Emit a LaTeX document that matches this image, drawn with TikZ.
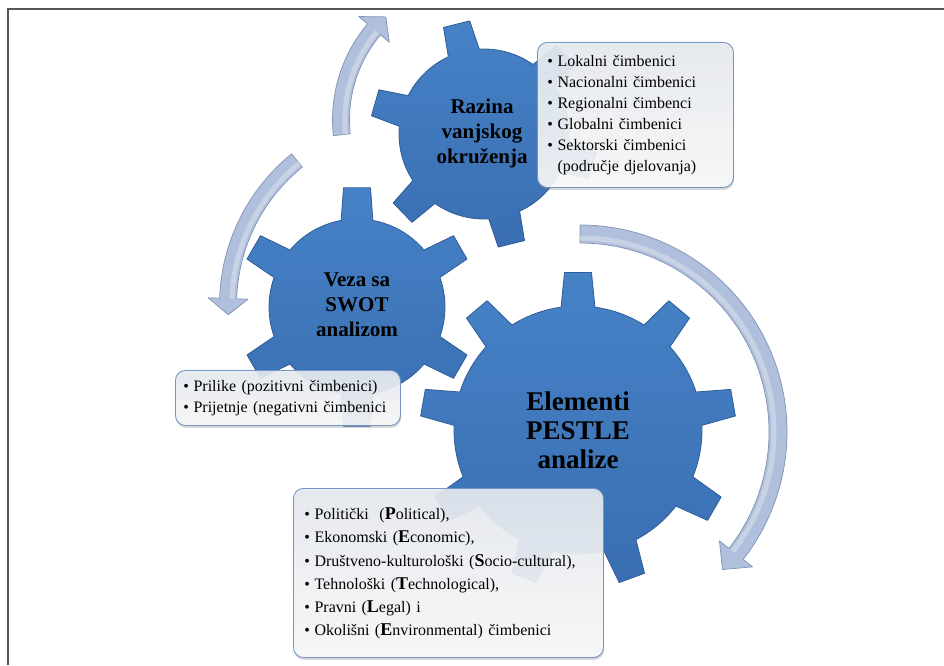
\documentclass[tikz,border=0pt]{standalone}
\usepackage{fontspec}
\setmainfont{Liberation Serif}
\usetikzlibrary{shadows}

\definecolor{gearTop}{RGB}{70,130,198}
\definecolor{gearBot}{RGB}{58,110,178}
\definecolor{gearEdge}{RGB}{46,92,152}
\definecolor{arrowFill}{RGB}{176,191,219}
\definecolor{arrowEdge}{RGB}{128,146,182}
\definecolor{boxEdge}{RGB}{116,150,196}
\definecolor{boxTop}{RGB}{231,235,241}
\definecolor{boxBot}{RGB}{251,251,251}
\definecolor{frameGray}{RGB}{85,85,85}

\tikzset{
  gearbody/.style={top color=gearTop, bottom color=gearBot, draw=gearEdge,
    line width=0.8pt, line join=round},
  cycarrow/.style={fill=arrowFill, draw=arrowEdge, line width=0.7pt, line join=round},
  arrowshine/.style={draw=white, opacity=0.3, line width=5pt},
  geartext/.style={align=center, inner sep=0pt, text=black},
  listbox/.style={draw=boxEdge, line width=0.9pt, rounded corners=10pt,
    top color=boxTop, bottom color=boxBot, fill opacity=0.9, text opacity=1,
    inner ysep=0pt, align=left, anchor=north west,
    drop shadow={shadow xshift=0.6pt, shadow yshift=-2.5pt, opacity=0.3}},
  frameline/.style={draw=frameGray, line width=2pt}
}

% gear: #1 centre, #2 teeth, #3 first tooth angle, #4 body radius,
%       #5 tip radius, #6 base half-angle, #7 tip half-angle
\newcommand\gearshape[7]{%
  \pgfmathsetmacro\gstep{360/#2}%
  \pgfmathtruncatemacro\glast{#2-1}%
  \path[gearbody, shift={#1}] ({#3-#6}:#4)
    \foreach \i in {0,...,\glast}{
      -- ({#3+\i*\gstep-#6}:#4) -- ({#3+\i*\gstep-#7}:#5)
      -- ({#3+\i*\gstep+#7}:#5) -- ({#3+\i*\gstep+#6}:#4)
      arc[start angle={#3+\i*\gstep+#6}, end angle={#3+(\i+1)*\gstep-#6}, radius=#4]
    } -- cycle;
}

% curved arrow: #1 centre, #2 radius, #3 half body width, #4 tail angle,
%               #5 head base angle, #6 tip angle, #7 head half-width
\newcommand\circarrow[7]{%
  \path[cycarrow, shift={#1}] ({#4}:{#2+#3})
    arc[start angle={#4}, end angle={#5}, radius={#2+#3}]
    -- ({#5}:{#2+#7}) -- ({#6}:{#2}) -- ({#5}:{#2-#7}) -- ({#5}:{#2-#3})
    arc[start angle={#5}, end angle={#4}, radius={#2-#3}] -- cycle;
  \path[arrowshine, shift={#1}] ({#4}:{#2-#3*0.45})
    arc[start angle={#4}, end angle={#5}, radius={#2-#3*0.45}];
}

\newcommand\bl[1]{{\fontsize{18}{23.2}\selectfont\bfseries #1}}

\begin{document}
\begin{tikzpicture}[x=1pt, y=-1pt]
  \useasboundingbox (0,0) rectangle (944,665);
  \fill[white] (0,0) rectangle (944,665);

  % frame
  \draw[frameline] (7.5,665) -- (7.5,9) -- (944,9);

  % curved arrows
  \circarrow{(482,120)}{141}{8.5}{-186}{-140}{-133}{20}
  \circarrow{(414,305)}{186}{8.5}{-129}{-178}{-183}{20}
  \circarrow{(580,432)}{198}{9}{-90}{38}{44}{21}

  % gears
  \coordinate (cbig) at (578,430);
  \coordinate (cmid) at (357,307);
  \coordinate (ctop) at (484,134);
  \gearshape{(cbig)}{9}{-90}{124}{158}{7.85}{4.9}
  \gearshape{(cmid)}{6}{-90}{88}{120}{10.4}{6.45}
  \gearshape{(ctop)}{6}{-104}{85}{114}{10.8}{6.8}

  \node[geartext, font=\fontsize{27}{29}\selectfont\bfseries] (pestle) at (cbig)
    {Elementi\\PESTLE\\analize};
  \node[geartext, font=\fontsize{21}{25}\selectfont\bfseries] (swot) at (357,305)
    {Veza sa\\SWOT\\analizom};
  \node[geartext, font=\fontsize{21}{25}\selectfont\bfseries] (razina) at (482,133)
    {Razina\\vanjskog\\okruženja};

  % lists
  \node[listbox, minimum width=196pt, minimum height=145pt, text width=176pt,
        inner xsep=10pt, font=\fontsize{16}{21}\selectfont] (levels) at (537,42)
    {\begin{tabular}{@{}l@{\hspace{4.5pt}}l@{}}
      \textbullet & Lokalni čimbenici\\
      \textbullet & Nacionalni čimbenici\\
      \textbullet & Regionalni čimbenci\\
      \textbullet & Globalni čimbenici\\
      \textbullet & Sektorski čimbenici\\
                  & (područje djelovanja)
     \end{tabular}};

  \node[listbox, minimum width=225pt, minimum height=55pt, text width=209pt,
        inner xsep=8pt, font=\fontsize{16}{21}\selectfont] (swotlist) at (175,370)
    {\begin{tabular}{@{}l@{\hspace{4.5pt}}l@{}}
      \textbullet & Prilike (pozitivni čimbenici)\\
      \textbullet & Prijetnje (negativni čimbenici
     \end{tabular}};

  \node[listbox, minimum width=310pt, minimum height=169pt, text width=288pt,
        inner xsep=11pt, font=\fontsize{16}{23.2}\selectfont] (pestlelist) at (293,488)
    {\begin{tabular}{@{}l@{\hspace{4.5pt}}l@{}}
      \textbullet & Politički~ (\bl{P}olitical),\\
      \textbullet & Ekonomski (\bl{E}conomic),\\
      \textbullet & Društveno-kulturološki (\bl{S}ocio-cultural),\\
      \textbullet & Tehnološki (\bl{T}echnological),\\
      \textbullet & Pravni (\bl{L}egal) i\\
      \textbullet & Okolišni (\bl{E}nvironmental) čimbenici
     \end{tabular}};
\end{tikzpicture}
\end{document}
